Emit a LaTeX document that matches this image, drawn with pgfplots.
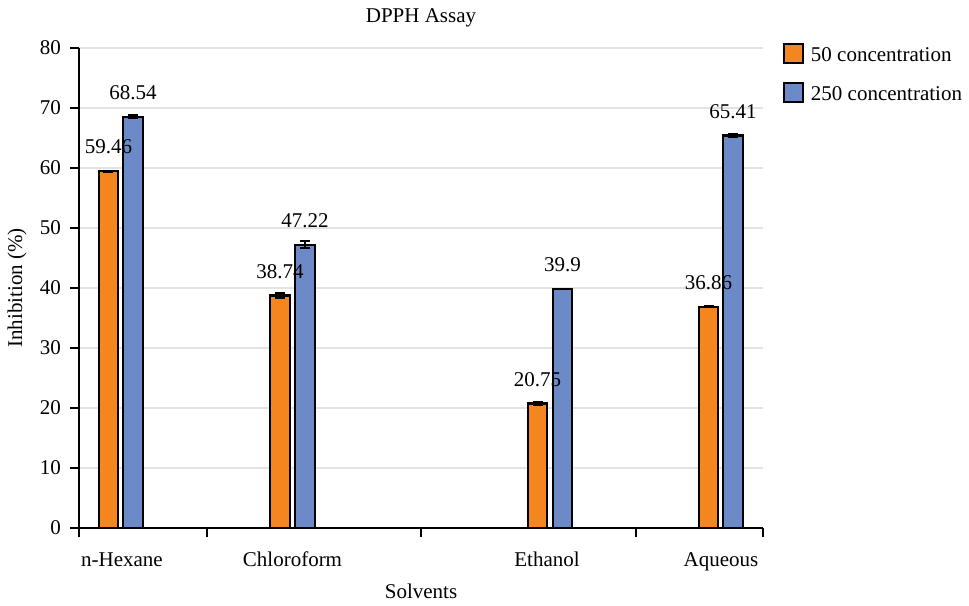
\documentclass[border=0pt]{standalone}
\usepackage{fontspec}
\setmainfont{Liberation Serif}
\usepackage{pgfplots}
\pgfplotsset{compat=1.18}

\definecolor{barorange}{HTML}{F5861F}
\definecolor{barblue}{HTML}{6C8AC8}
\newcommand\cf{\fontsize{10.5}{12.6}\selectfont}

\begin{document}
\begin{tikzpicture}
\begin{axis}[
    scale only axis,
    width=342pt, height=240pt,
    xmin=79, xmax=763,
    ymin=0, ymax=80,
    ytick={0,10,...,80},
    axis lines=left,
    axis line style={-, line width=1pt},
    every tick/.style={black, line width=1pt},
    tick align=outside,
    ymajorgrids,
    grid style={gray!22, line width=0.75pt},
    /pgf/number format/assume math mode=true,
    tick label style={font=\cf},
    y tick label style={xshift=-1pt},
    major tick length=4.5pt,
    xtick={122,292.5,547,721},
    xticklabels={n-Hexane,Chloroform,Ethanol,Aqueous},
    x tick style={draw=none},
    x tick label style={anchor=base, yshift=-14.5pt},
    extra x ticks={79,207,421,636,763},
    extra x tick labels={},
    extra x tick style={x tick style={draw=black, line width=1pt}, xmajorgrids=false},
    title={DPPH Assay},
    title style={font=\cf, at={(axis description cs:0.5,1.0375)}, anchor=center},
    xlabel={Solvents},
    xlabel style={font=\cf, at={(axis description cs:0.5,-0.131)}, anchor=center},
    ylabel={Inhibition (\%)},
    ylabel style={font=\cf, at={(axis description cs:-0.0906,0.5)}, anchor=center},
    ybar, bar shift=0pt, bar width=19.5,
    nodes near coords,
    point meta=explicit symbolic,
    every node near coord/.append style={font=\cf, anchor=south, inner sep=0pt, yshift=8pt, black},
    legend style={at={(1.0292,1.0104)}, anchor=north west, draw=none, fill=none,
        inner sep=0pt, outer sep=0pt, row sep=9pt, column sep=3.5pt,
        font=\cf, nodes={inner sep=0pt, outer sep=0pt, anchor=base west}},
    legend cell align=left,
    legend image code/.code={\draw[#1, line width=1pt] (0pt,-1pt) rectangle (9.5pt,8.5pt);},
]
\addplot[fill=barorange, draw=black, line width=1.1pt,
    error bars/.cd, y dir=both, y explicit,
    error bar style={line width=1pt, black},
    error mark options={rotate=90, mark size=2.5pt, line width=1pt, black}]
    coordinates {
    (108.5,59.46) +- (0,0.1) [59.46]
    (280,38.74) +- (0,0.4) [38.74]
    (537.5,20.75) +- (0,0.2) [20.75]
    (708.5,36.86) +- (0,0.1) [36.86]
    };
\addlegendentry{50 concentration}
\addplot[fill=barblue, draw=black, line width=1.1pt,
    error bars/.cd, y dir=both, y explicit,
    error bar style={line width=1pt, black},
    error mark options={rotate=90, mark size=2.5pt, line width=1pt, black}]
    coordinates {
    (133,68.54) +- (0,0.25) [68.54]
    (305,47.22) +- (0,0.6) [47.22]
    (562.5,39.9) +- (0,0) [39.9]
    (733,65.41) +- (0,0.2) [65.41]
    };
\addlegendentry{250 concentration}
\coordinate (O) at (rel axis cs:0,0);
\end{axis}
\pgfresetboundingbox
\path ([shift={(-39.5pt,-38.5pt)}]O) rectangle ([shift={(445pt,264pt)}]O);
\end{tikzpicture}
\end{document}
